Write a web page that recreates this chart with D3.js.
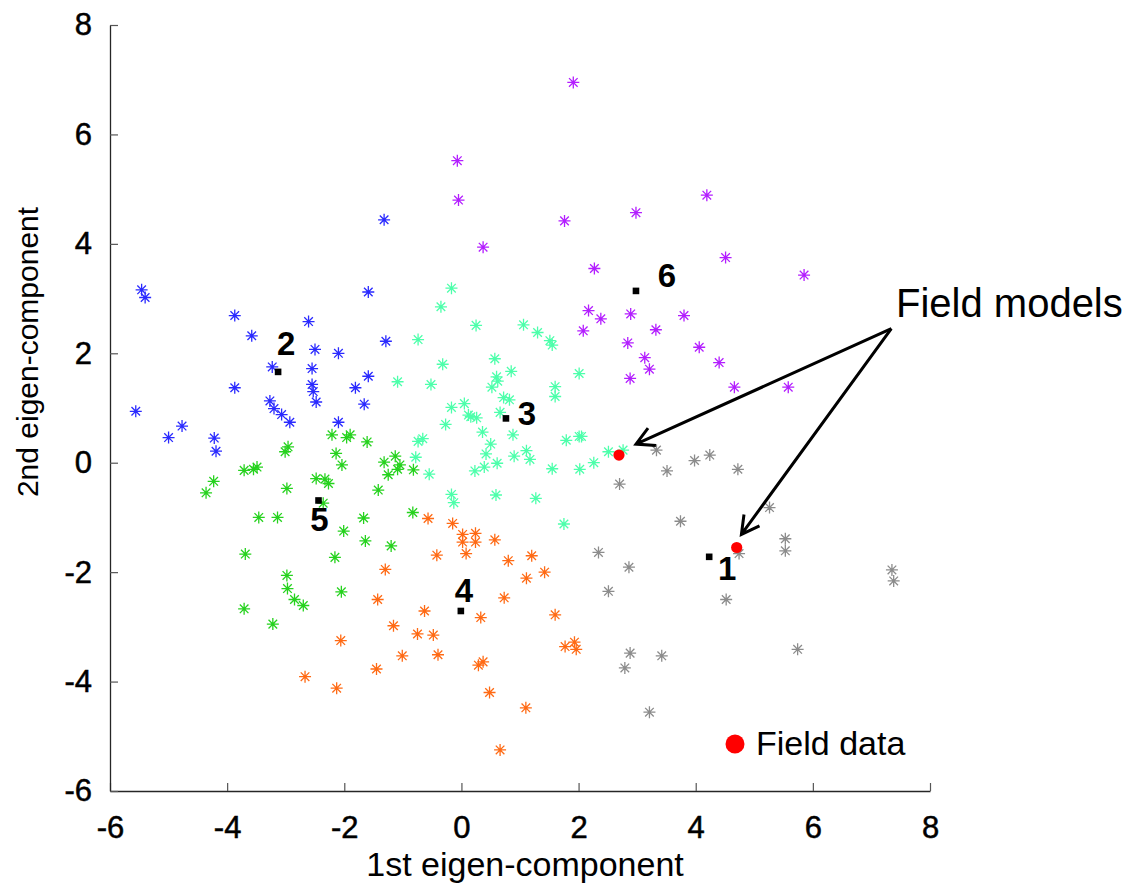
<!DOCTYPE html>
<html>
<head>
<meta charset="utf-8">
<script src="https://cdn.jsdelivr.net/npm/d3@7/dist/d3.min.js"></script>
<style>
  body { margin: 0; background: #fff; }
  text { font-family: "Liberation Sans", Arial, Helvetica, sans-serif; }
</style>
</head>
<body>
<div id="chart"></div>
<script>
// model scores on the first two eigen-components, one array per cluster
const cluster1 = [ // gray
  [3.33,0.23],[4.24,0.14],[3.98,0.04],[3.51,-0.15],[4.72,-0.12],[2.70,-0.39],
  [5.26,-0.82],[3.74,-1.07],[5.53,-1.39],[5.53,-1.61],[4.74,-1.66],[2.34,-1.64],
  [2.86,-1.91],[2.51,-2.35],[4.52,-2.50],[7.35,-1.96],[7.38,-2.16],[5.74,-3.41],
  [2.88,-3.48],[2.79,-3.75],[3.42,-3.53],[3.21,-4.56]
];
const cluster2 = [ // blue
  [-5.46,3.16],[-5.40,3.02],[-3.87,2.69],[-3.58,2.32],[-2.61,2.58],[-2.50,2.07],
  [-2.10,2.00],[-1.59,3.12],[-1.29,2.22],[-3.23,1.75],[-2.55,1.72],[-1.59,1.58],
  [-3.87,1.37],[-2.55,1.43],[-2.53,1.30],[-2.48,1.11],[-1.81,1.37],[-1.66,1.07],
  [-3.27,1.13],[-3.20,0.99],[-3.07,0.88],[-2.93,0.74],[-2.10,0.74],[-5.56,0.94],
  [-4.77,0.67],[-5.00,0.46],[-4.22,0.45],[-4.19,0.21],[-1.32,4.44]
];
const cluster3 = [ // aquamarine
  [-0.17,3.19],[-0.35,2.85],[0.25,2.51],[-0.74,2.25],[-0.32,1.80],[0.57,1.90],
  [0.60,1.57],[0.62,1.49],[-1.09,1.48],[-0.52,1.43],[0.52,1.38],[0.85,1.67],
  [1.06,2.52],[1.30,2.38],[1.51,2.23],[1.55,2.15],[2.01,1.63],[1.60,1.39],
  [1.60,1.21],[0.72,1.19],[0.82,1.15],[-0.17,1.01],[0.05,1.08],[0.12,0.87],
  [0.26,0.82],[0.16,0.84],[0.66,0.92],[-0.27,0.70],[0.36,0.56],[0.88,0.51],
  [0.50,0.34],[0.42,0.16],[0.61,-0.01],[0.23,-0.15],[0.39,-0.08],[0.90,0.12],
  [1.11,0.22],[1.17,0.06],[1.55,-0.11],[1.79,0.41],[2.01,0.48],[2.05,0.48],
  [2.02,-0.12],[2.26,0.00],[2.51,0.20],[2.76,0.23],[-0.74,0.39],[-0.66,0.44],
  [-0.78,0.10],[-0.55,-0.21],[-0.17,-0.58],[-0.13,-0.73],[0.59,-0.59],[1.27,-0.65],
  [1.75,-1.12]
];
const cluster4 = [ // orange
  [-0.57,-1.02],[-0.15,-1.11],[0.02,-1.31],[0.24,-1.29],[0.02,-1.45],[0.24,-1.45],
  [0.57,-1.41],[0.08,-1.66],[-0.42,-1.69],[-1.30,-1.95],[0.80,-1.79],[1.20,-1.70],
  [1.42,-2.00],[1.11,-2.11],[0.73,-2.47],[-1.43,-2.50],[-0.63,-2.71],[0.33,-2.83],
  [1.60,-2.78],[-1.16,-2.98],[-0.75,-3.13],[-0.48,-3.15],[-2.06,-3.25],[-1.01,-3.53],
  [-0.40,-3.51],[0.37,-3.64],[0.29,-3.70],[1.77,-3.36],[1.93,-3.28],[1.96,-3.41],
  [-1.45,-3.77],[-2.67,-3.91],[-2.13,-4.12],[0.48,-4.20],[1.10,-4.48],[0.66,-5.25]
];
const cluster5 = [ // green
  [-2.21,0.51],[-1.96,0.46],[-1.90,0.51],[-1.61,0.38],[-2.96,0.29],[-3.01,0.20],
  [-2.14,0.17],[-2.04,-0.04],[-1.32,0.01],[-1.13,0.12],[-1.05,-0.04],[-1.09,-0.12],
  [-1.25,-0.22],[-0.82,-0.13],[-3.71,-0.14],[-3.55,-0.12],[-3.49,-0.08],[-4.23,-0.34],
  [-4.36,-0.55],[-2.98,-0.47],[-2.48,-0.29],[-2.33,-0.30],[-2.27,-0.38],[-1.42,-0.50],
  [-2.36,-0.74],[-3.46,-1.00],[-3.14,-1.00],[-1.67,-1.01],[-0.83,-0.91],[-2.01,-1.25],
  [-1.64,-1.43],[-1.20,-1.52],[-3.69,-1.67],[-2.16,-1.73],[-2.98,-2.06],[-2.97,-2.30],
  [-2.85,-2.50],[-2.70,-2.61],[-2.05,-2.36],[-3.71,-2.67],[-3.22,-2.95]
];
const cluster6 = [ // purple
  [1.91,6.95],[-0.07,5.52],[-0.05,4.80],[0.37,3.94],[1.76,4.42],[2.98,4.57],
  [4.19,4.89],[2.27,3.55],[4.51,3.75],[5.85,3.43],[2.17,2.78],[2.38,2.63],
  [2.08,2.41],[2.89,2.72],[3.80,2.69],[3.32,2.43],[2.84,2.19],[3.13,1.92],
  [3.21,1.71],[4.06,2.11],[4.40,1.83],[2.88,1.54],[4.66,1.38],[5.58,1.38]
];

const centroids = [[4.23,-1.72],[-3.13,1.66],[0.76,0.81],[-0.01,-2.71],[-2.44,-0.69],[2.98,3.14]];
const centroidLabels = ["1","2","3","4","5","6"];
const fieldData = [[2.69,0.14],[4.70,-1.55]];

const xTicks = [-6,-4,-2,0,2,4,6,8];
const yTicks = [-6,-4,-2,0,2,4,6,8];

const W = 1148, H = 887;
const margin = {left: 110, right: 218, top: 25, bottom: 96};

const colors = ["#8c8c8c", "#2a2aff", "#4dffab", "#ff6a14", "#26d21e", "#b31eff"];
// label offsets (px) from each centroid square
const labelOffset = [[18,23],[8,-17],[21,7],[3,-9],[1,31],[31,-4]];

const svg = d3.select("#chart").append("svg")
  .attr("width", W).attr("height", H);

const x = d3.scaleLinear().domain([-6, 8]).range([margin.left, W - margin.right]);
const y = d3.scaleLinear().domain([-6, 8]).range([H - margin.bottom, margin.top]);

// axes: left and bottom only, ticks pointing inward, plain hyphen minus
const fmt = d => String(d);
const xAxis = svg.append("g")
  .attr("transform", `translate(0,${y(-6)})`)
  .call(d3.axisBottom(x).tickValues(xTicks).tickFormat(fmt)
    .tickSizeInner(-8).tickSizeOuter(0).tickPadding(18));
const yAxis = svg.append("g")
  .attr("transform", `translate(${x(-6)},0)`)
  .call(d3.axisLeft(y).tickValues(yTicks).tickFormat(fmt)
    .tickSizeInner(-8).tickSizeOuter(0).tickPadding(18));

[xAxis, yAxis].forEach(g => {
  g.select(".domain").attr("stroke", "#262626").attr("stroke-width", 1.3);
  g.selectAll(".tick line").attr("stroke", "#555").attr("stroke-width", 1.2);
  g.selectAll(".tick text").attr("fill", "#000").attr("font-size", 31)
    .attr("stroke", "#000").attr("stroke-width", 0.5)
    .attr("font-family", "'Liberation Sans', Arial, sans-serif");
});
xAxis.selectAll(".tick text").attr("dy", "0.93em");

svg.append("text")
  .attr("x", (x(-6) + x(8)) / 2 + 5).attr("y", 876)
  .attr("text-anchor", "middle").attr("font-size", 34)
  .text("1st eigen-component");

svg.append("text")
  .attr("transform", "translate(38,352) rotate(-90)")
  .attr("text-anchor", "middle").attr("font-size", 30)
  .text("2nd eigen-component");

// asterisk marker like MATLAB '*'
const star = "M-6,0L6,0M0,-6L0,6M-4.3,-4.3L4.3,4.3M-4.3,4.3L4.3,-4.3";

const clusters = [cluster1, cluster2, cluster3, cluster4, cluster5, cluster6];
const drawOrder = [0, 5, 2, 3, 1, 4];
drawOrder.forEach(i => {
  svg.append("g").selectAll("path")
    .data(clusters[i])
    .join("path")
    .attr("d", star)
    .attr("transform", d => `translate(${x(d[0])},${y(d[1])})`)
    .attr("stroke", colors[i])
    .attr("stroke-width", 1.3)
    .attr("fill", "none");
});

// centroid squares and their numbers
svg.append("g").selectAll("rect")
  .data(centroids)
  .join("rect")
  .attr("x", d => x(d[0]) - 3.3).attr("y", d => y(d[1]) - 3.3)
  .attr("width", 6.6).attr("height", 6.6)
  .attr("fill", "#000");

svg.append("g").selectAll("text")
  .data(centroids)
  .join("text")
  .attr("x", (d, i) => x(d[0]) + labelOffset[i][0])
  .attr("y", (d, i) => y(d[1]) + labelOffset[i][1])
  .attr("text-anchor", "middle")
  .attr("font-size", 33).attr("font-weight", "bold")
  .text((d, i) => centroidLabels[i]);

// field data points
svg.append("g").selectAll("circle")
  .data(fieldData)
  .join("circle")
  .attr("cx", d => x(d[0])).attr("cy", d => y(d[1]))
  .attr("r", 5.6).attr("fill", "#ff0000");

// legend
svg.append("circle").attr("cx", 735).attr("cy", 744).attr("r", 9.5).attr("fill", "#ff0000");
svg.append("text").attr("x", 756).attr("y", 755).attr("font-size", 34).text("Field data");

// annotation with arrows
const arrowStart = [7.34, 2.45];
const arrowEnds = [[2.98, 0.34], [4.78, -1.31]];

svg.append("text")
  .attr("x", 896).attr("y", 317)
  .attr("font-family", "'Open Sans', 'Noto Sans', sans-serif")
  .attr("font-size", 40)
  .text("Field models");

const sx = x(arrowStart[0]), sy = y(arrowStart[1]);
arrowEnds.forEach(e => {
  const ex = x(e[0]), ey = y(e[1]);
  const ang = Math.atan2(sy - ey, sx - ex);
  const len = 20, spread = 0.5;
  const h1 = [ex + len * Math.cos(ang - spread), ey + len * Math.sin(ang - spread)];
  const h2 = [ex + len * Math.cos(ang + spread), ey + len * Math.sin(ang + spread)];
  const p = d3.path();
  p.moveTo(sx, sy); p.lineTo(ex, ey);
  p.moveTo(h1[0], h1[1]); p.lineTo(ex, ey); p.lineTo(h2[0], h2[1]);
  svg.append("path").attr("d", p.toString())
    .attr("fill", "none").attr("stroke", "#000")
    .attr("stroke-width", 3).attr("stroke-linejoin", "miter");
});
</script>
</body>
</html>
